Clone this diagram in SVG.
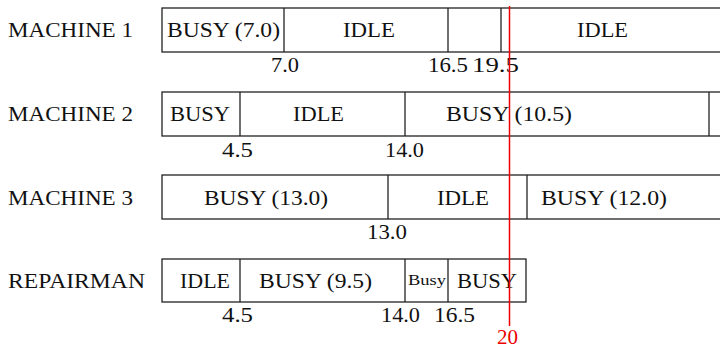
<svg xmlns="http://www.w3.org/2000/svg" width="720" height="349" viewBox="0 0 720 349">
<style>
.bx{fill:#fff;stroke:#222;stroke-width:1.3}
.dv{stroke:#222;stroke-width:1.3}
text{font-family:"Liberation Serif","Times New Roman",serif;fill:#111;font-size:21px}
.num{font-size:22px}
.sm{font-size:15px}
.red{stroke:#e00;stroke-width:1.5}
</style>
<rect width="720" height="349" fill="#fff"/>
<g id="machine1">
<text x="8" y="37" textLength="125" lengthAdjust="spacingAndGlyphs">MACHINE 1</text>
<rect class="bx" x="162" y="8" width="570" height="44"/>
<line class="dv" x1="284" y1="8" x2="284" y2="52"/>
<line class="dv" x1="448" y1="8" x2="448" y2="52"/>
<line class="dv" x1="501" y1="8" x2="501" y2="52"/>
<text x="167" y="37" textLength="113" lengthAdjust="spacingAndGlyphs">BUSY (7.0)</text>
<text x="343" y="37" textLength="52" lengthAdjust="spacingAndGlyphs">IDLE</text>
<text x="577" y="37" textLength="51" lengthAdjust="spacingAndGlyphs">IDLE</text>
<text class="num" x="271" y="72" textLength="28" lengthAdjust="spacingAndGlyphs">7.0</text>
<text class="num" x="428" y="72" textLength="40" lengthAdjust="spacingAndGlyphs">16.5</text>
<text class="num" x="472" y="72" textLength="47" lengthAdjust="spacingAndGlyphs">19.5</text>
</g>
<g id="machine2">
<text x="8" y="121" textLength="125" lengthAdjust="spacingAndGlyphs">MACHINE 2</text>
<rect class="bx" x="162" y="92" width="570" height="44"/>
<line class="dv" x1="240" y1="92" x2="240" y2="136"/>
<line class="dv" x1="405" y1="92" x2="405" y2="136"/>
<line class="dv" x1="709" y1="92" x2="709" y2="136"/>
<text x="170" y="121" textLength="60" lengthAdjust="spacingAndGlyphs">BUSY</text>
<text x="293" y="121" textLength="51" lengthAdjust="spacingAndGlyphs">IDLE</text>
<text x="446" y="121" textLength="126" lengthAdjust="spacingAndGlyphs">BUSY (10.5)</text>
<text class="num" x="222" y="157" textLength="31" lengthAdjust="spacingAndGlyphs">4.5</text>
<text class="num" x="385" y="157" textLength="39" lengthAdjust="spacingAndGlyphs">14.0</text>
</g>
<g id="machine3">
<text x="8" y="205" textLength="125" lengthAdjust="spacingAndGlyphs">MACHINE 3</text>
<rect class="bx" x="162" y="175" width="570" height="44"/>
<line class="dv" x1="388" y1="175" x2="388" y2="219"/>
<line class="dv" x1="527" y1="175" x2="527" y2="219"/>
<text x="204" y="205" textLength="124" lengthAdjust="spacingAndGlyphs">BUSY (13.0)</text>
<text x="437" y="205" textLength="52" lengthAdjust="spacingAndGlyphs">IDLE</text>
<text x="541" y="205" textLength="126" lengthAdjust="spacingAndGlyphs">BUSY (12.0)</text>
<text class="num" x="367" y="239" textLength="40" lengthAdjust="spacingAndGlyphs">13.0</text>
</g>
<g id="repairman">
<text x="8" y="288" textLength="137" lengthAdjust="spacingAndGlyphs">REPAIRMAN</text>
<rect class="bx" x="162" y="259" width="364" height="43"/>
<line class="dv" x1="240" y1="259" x2="240" y2="302"/>
<line class="dv" x1="405" y1="259" x2="405" y2="302"/>
<line class="dv" x1="448" y1="259" x2="448" y2="302"/>
<text x="180" y="288" textLength="50" lengthAdjust="spacingAndGlyphs">IDLE</text>
<text x="259" y="288" textLength="113" lengthAdjust="spacingAndGlyphs">BUSY (9.5)</text>
<text class="sm" x="408" y="285" textLength="38" lengthAdjust="spacingAndGlyphs">Busy</text>
<text x="457" y="288" textLength="60" lengthAdjust="spacingAndGlyphs">BUSY</text>
<text class="num" x="222" y="322" textLength="31" lengthAdjust="spacingAndGlyphs">4.5</text>
<text class="num" x="381" y="322" textLength="39" lengthAdjust="spacingAndGlyphs">14.0</text>
<text class="num" x="434" y="322" textLength="41" lengthAdjust="spacingAndGlyphs">16.5</text>
</g>
<g id="connectors">
<line class="red" x1="509.5" y1="6" x2="509.5" y2="326"/>
<text x="497" y="344" textLength="21" lengthAdjust="spacingAndGlyphs" style="fill:#e00">20</text>
</g>
</svg>
